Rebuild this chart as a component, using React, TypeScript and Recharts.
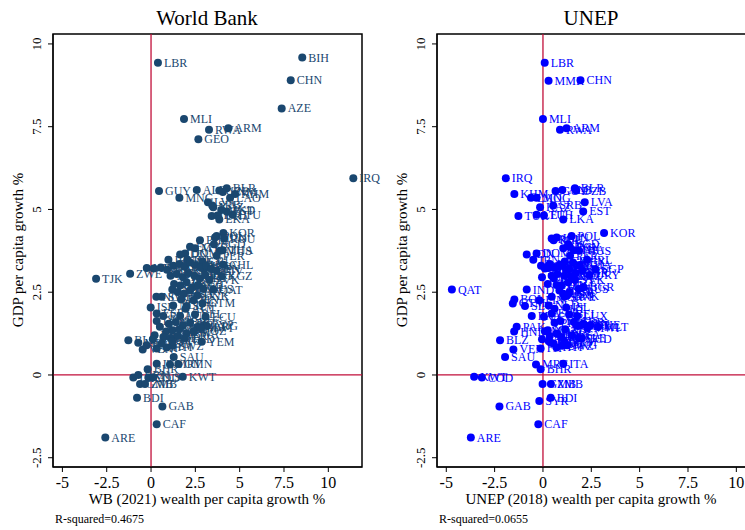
import React from 'react';
import {
  ScatterChart,
  Scatter,
  XAxis,
  YAxis,
  ReferenceLine,
  ReferenceArea,
} from 'recharts';

// country codes, GDP per capita growth, WB wealth growth, UNEP wealth growth
const codes = [
  'LBR', 'BIH', 'CHN', 'MMR', 'AZE', 'MLI', 'ARM', 'RWA', 'GEO', 'IRQ',
  'BLR', 'UZB', 'ALB', 'GUY', 'VNM', 'KHM', 'MNG', 'LAO', 'LVA', 'SRB',
  'KAZ', 'EST', 'MKD', 'TUR', 'LTU', 'ETH', 'LKA', 'KOR', 'POL', 'HUN',
  'ROU', 'BGD', 'PHL', 'EGY', 'MUS', 'PER', 'DOM', 'IDN', 'IRN', 'IRL',
  'CRI', 'MYS', 'THA', 'CHL', 'MDA', 'SGP', 'ZWE', 'TJK', 'KGZ', 'QAT',
  'IND', 'PAN', 'COL', 'MAR', 'TUN', 'JOR', 'BRA', 'MEX', 'GHA', 'KEN',
  'UGA', 'SEN', 'CIV', 'NPL', 'BEN', 'TGO', 'CMR', 'NIC', 'PRY', 'URY',
  'SVK', 'SVN', 'HRV', 'CZE', 'BGR', 'NZL', 'AUS', 'ISR', 'USA', 'CAN',
  'DNK', 'NOR', 'SWE', 'BOL', 'FIN', 'GTM', 'SLV', 'ISL', 'NLD', 'AUT',
  'ESP', 'FRA', 'LUX', 'DEU', 'BEL', 'ECU', 'JPN', 'GBR', 'CHE', 'PRT',
  'MLT', 'CYP', 'PAK', 'HND', 'NAM', 'ZAF', 'BWA', 'ARG', 'MOZ', 'MWI',
  'BFA', 'GIN', 'SLE', 'NER', 'TCD', 'BLZ', 'YEM', 'MDG', 'VEN', 'PNG',
  'FJI', 'HTI', 'LSO', 'SWZ', 'JAM', 'TTO', 'SAU', 'ITA', 'MRT', 'OMN',
  'BHR', 'KWT', 'COD', 'LBY', 'BRN', 'TLS', 'GMB', 'ZMB', 'BDI', 'SYR',
  'GAB', 'CAF', 'ARE',
];

const gdpGrowth = [
  9.43, 9.59, 8.9, 8.89, 8.05, 7.73, 7.45, 7.41, 7.12, 5.94,
  5.64, 5.57, 5.59, 5.56, 5.53, 5.47, 5.35, 5.35, 5.22, 5.12,
  5.07, 4.94, 4.98, 4.8, 4.84, 4.82, 4.7, 4.29, 4.2, 4.15,
  4.12, 3.95, 4.07, 3.87, 3.75, 3.6, 3.67, 3.64, 3.48, 3.48,
  3.43, 3.83, 3.77, 3.33, 3.23, 3.19, 3.06, 2.91, 2.98, 2.58,
  2.58, 3.22, 3.25, 3.18, 3.3, 3.35, 3.28, 3.4, 3.32, 3.25,
  3.3, 3.2, 3.15, 3.0, 3.05, 2.95, 3.08, 3.0, 2.92, 3.02,
  2.88, 2.75, 2.7, 2.8, 2.65, 2.72, 2.6, 2.51, 2.45, 2.55,
  2.4, 2.36, 2.36, 2.28, 2.26, 2.16, 2.08, 2.04, 2.1, 2.0,
  1.86, 1.78, 1.78, 1.63, 1.83, 1.76, 1.55, 1.6, 1.5, 1.58,
  1.45, 1.5, 1.46, 1.31, 1.35, 1.38, 1.25, 1.48, 1.32, 1.42,
  1.2, 1.15, 1.12, 1.18, 1.1, 1.05, 1.0, 0.97, 0.77, 0.9,
  0.8, 0.83, 0.95, 0.88, 1.08, 1.02, 0.54, 0.34, 0.32, 0.33,
  0.17, -0.05, -0.08, -0.08, 0.0, -0.07, -0.27, -0.27, -0.69, -0.79,
  -0.95, -1.49, -1.89,
];

const wbGrowth = [
  0.39, 8.53, 7.88, null, 7.37, 1.86, 4.36, 3.27, 2.67, 11.41,
  4.27, 3.85, 2.58, 0.45, 4.05, 4.74, 1.6, 4.46, 3.21, 3.45,
  3.51, 4.27, 3.96, 3.42, 4.6, 3.75, 3.85, 4.08, 3.7, 3.61,
  4.12, 3.55, 2.76, 2.2, 3.89, 3.7, 1.92, 1.64, 0.98, 2.05,
  2.9, 2.48, 4.04, 4.08, -0.24, 3.0, -1.18, -3.1, 3.99, 3.51,
  1.2, 0.15, 0.55, 0.9, 1.25, 1.6, 1.9, 2.2, 2.5, 2.8,
  3.1, 3.4, 3.7, 1.1, 1.45, 1.8, 2.1, 2.45, 2.75, 3.05,
  3.3, 1.3, 1.65, 2.0, 2.35, 2.65, 2.95, 1.5, 1.85, 2.2,
  2.6, 0.3, 0.6, 1.7, 2.4, 2.9, 2.0, -0.02, 1.25, 1.95,
  0.32, 0.69, 1.64, 0.32, 2.48, 3.08, 1.0, 1.4, 1.8, 2.2,
  2.6, 3.0, 0.5, 0.85, 1.2, 1.6, 2.0, 3.14, 2.4, 2.8,
  0.2, 0.7, 1.1, 1.5, 1.9, -1.28, 2.86, -0.72, -0.47, -0.25,
  0.32, 0.88, 0.6, 1.2, 0.1, 1.2, 1.28, 0.32, 1.07, 1.54,
  -0.19, 1.79, -0.15, -1.0, -0.72, 0.13, -0.62, -0.34, -0.79, null,
  0.64, 0.32, -2.58,
];

const unepGrowth = [
  0.09, null, 1.94, 0.29, null, 0.0, 1.22, 0.88, null, -1.92,
  1.65, 1.72, 1.0, 0.65, null, -1.48, -0.33, -0.62, 2.16, 0.53,
  -0.15, 2.08, null, -1.27, -0.33, 0.05, 1.05, 3.16, 1.48, 0.71,
  0.45, 1.3, 0.55, 1.39, 1.87, 1.4, -0.33, -0.84, -0.5, 2.28,
  1.13, 1.05, 1.6, 0.9, 0.3, 2.72, null, null, 1.45, -4.71,
  -0.84, 0.1, 0.6, 1.2, -0.1, 0.35, 0.8, 1.55, 1.9, 0.2,
  1.0, 1.35, 2.05, 0.45, 0.75, -0.05, 1.7, 1.1, 0.55, 2.4,
  1.65, 0.25, 0.95, 1.3, 2.1, 0.7, 1.85, 1.39, 1.05, 0.85,
  1.25, 0.45, 1.1, -1.48, -0.19, -1.56, -0.93, 1.2, 0.3, 0.6,
  0.45, -0.58, 1.77, 0.9, 1.35, 0.05, 2.1, 1.6, 2.45, 0.6,
  2.85, 1.95, -1.36, -1.49, 0.25, 1.15, 0.7, 1.8, 0.1, 2.3,
  1.5, 0.95, 1.85, 0.35, 2.0, -2.22, 1.1, 0.4, -1.53, 1.25,
  -0.12, 0.7, 0.55, 1.0, -0.05, 0.3, -1.96, 1.05, -0.36, null,
  -0.12, -3.56, -3.16, null, null, null, -0.02, 0.41, 0.4, -0.19,
  -2.25, -0.24, -3.73,
];

const xTicks = [-5, -2.5, 0, 2.5, 5, 7.5, 10];
const yTicks = [-2.5, 0, 2.5, 5, 7.5, 10];

const SERIF = "'Liberation Serif', 'Times New Roman', serif";

function buildPoints(values: (number | null)[]) {
  const pts: { code: string; x: number; y: number }[] = [];
  codes.forEach((c, i) => {
    const v = values[i];
    if (v !== null && v !== undefined) pts.push({ code: c, x: v, y: gdpGrowth[i] });
  });
  return pts;
}

const wbPoints = buildPoints(wbGrowth);
const unepPoints = buildPoints(unepGrowth);

function YTick(props: any) {
  const { x, y, payload } = props;
  return (
    <text
      transform={`translate(${x - 5},${y}) rotate(-90)`}
      textAnchor="middle"
      fontSize={13}
      fontFamily={SERIF}
      fill="#000"
    >
      {payload.value}
    </text>
  );
}

function makeShape(color: string) {
  return (props: any) => {
    const { cx, cy, payload } = props;
    if (cx == null || cy == null) return <g />;
    return (
      <g>
        <circle cx={cx} cy={cy} r={4} fill={color} />
        <text x={cx + 6} y={cy + 4} fontSize={12} fontFamily={SERIF} fill={color}>
          {payload.code}
        </text>
      </g>
    );
  };
}

interface PanelProps {
  left: number;
  width: number;
  data: { code: string; x: number; y: number }[];
  xDomain: [number, number];
  color: string;
}

function Panel({ left, width, data, xDomain, color }: PanelProps) {
  const yDomain: [number, number] = [-2.78, 10.3];
  return (
    <div style={{ position: 'absolute', left, top: 0 }}>
      <ScatterChart
        width={width}
        height={530}
        margin={{ top: 34, right: width - 362, bottom: 23, left: 0 }}
      >
        <XAxis
          type="number"
          dataKey="x"
          domain={xDomain}
          ticks={xTicks}
          height={40}
          tickSize={5}
          tickMargin={5}
          stroke="#000"
          tick={{ fontSize: 16, fill: '#000', fontFamily: SERIF }}
        />
        <YAxis
          type="number"
          dataKey="y"
          domain={yDomain}
          ticks={yTicks}
          width={53}
          tickSize={5}
          stroke="#000"
          tick={<YTick />}
        />
        <ReferenceArea
          x1={xDomain[0]}
          x2={xDomain[1]}
          y1={yDomain[0]}
          y2={yDomain[1]}
          fill="none"
          fillOpacity={0}
          stroke="#000"
          strokeWidth={1.5}
        />
        <ReferenceLine x={0} stroke="#c10f3a" strokeWidth={1.3} />
        <ReferenceLine y={0} stroke="#c10f3a" strokeWidth={1.3} />
        <Scatter data={data} isAnimationActive={false} shape={makeShape(color)} />
      </ScatterChart>
    </div>
  );
}

export default function App() {
  return (
    <div
      style={{
        position: 'absolute',
        left: 0,
        top: 0,
        width: 745,
        height: 530,
        overflow: 'hidden',
        background: '#fff',
      }}
    >
      <Panel left={384} width={372} data={unepPoints} xDomain={[-5.48, 10.5]} color="#0000ff" />
      <Panel left={0} width={381} data={wbPoints} xDomain={[-5.53, 11.9]} color="#1a476f" />
      <svg
        width={745}
        height={530}
        style={{ position: 'absolute', left: 0, top: 0, pointerEvents: 'none' }}
        fontFamily={SERIF}
      >
        <text x={207} y={25} fontSize={21} textAnchor="middle">World Bank</text>
        <text x={591} y={25} fontSize={21} textAnchor="middle">UNEP</text>
        <text x={207} y={504} fontSize={15} textAnchor="middle">
          WB (2021) wealth per capita growth %
        </text>
        <text x={591} y={504} fontSize={15} textAnchor="middle">
          UNEP (2018) wealth per capita growth %
        </text>
        <text transform="translate(23,250) rotate(-90)" fontSize={15} textAnchor="middle">
          GDP per capita growth %
        </text>
        <text transform="translate(407,250) rotate(-90)" fontSize={15} textAnchor="middle">
          GDP per capita growth %
        </text>
        <text x={55} y={523} fontSize={12}>R-squared=0.4675</text>
        <text x={439} y={523} fontSize={12}>R-squared=0.0655</text>
      </svg>
    </div>
  );
}
